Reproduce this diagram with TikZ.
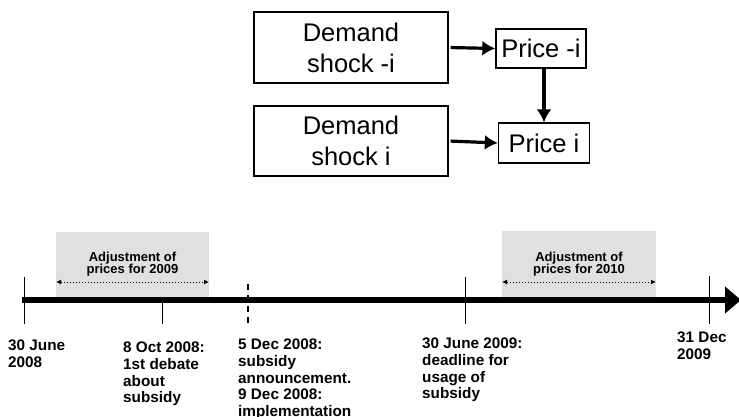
\documentclass[tikz,border=0pt]{standalone}
\usepackage{fontspec}
\setmainfont{Liberation Sans}
\usetikzlibrary{arrows.meta}
\begin{document}
\begin{tikzpicture}[x=1pt,y=-1pt,
  box/.style={draw,line width=1.3pt,inner sep=0pt,align=center,
    font=\fontsize{25.5}{31}\selectfont},
  flow/.style={line width=3.2pt,-{Latex[length=13pt,width=15pt]}},
  datelbl/.style={anchor=north west,inner sep=0pt,align=left,
    font=\fontsize{15.3}{16.7}\selectfont\bfseries},
  tick/.style={line width=1pt},
  adjbox/.style={fill=black!12,draw=none},
  adjlbl/.style={inner sep=0pt,align=center,
    font=\fontsize{13}{12.5}\selectfont\bfseries},
  adjarrow/.style={dotted,line width=1pt,{Latex[length=5pt,width=5pt]}-{Latex[length=5pt,width=5pt]}}
]
\useasboundingbox (0,0) rectangle (739,417);
% top diagram
\node[box,minimum width=194pt,minimum height=71pt] (ds1) at (351,47.5) {Demand\\shock -i};
\node[box,minimum width=90pt,minimum height=39pt] (p1) at (541,48.5) {Price -i};
\node[box,minimum width=194pt,minimum height=70pt] (ds2) at (351,141) {Demand\\shock i};
\node[box,minimum width=91pt,minimum height=40pt] (p2) at (544,143) {Price i};
\draw[flow,shorten <=2pt] (ds1.east) -- (p1.west);
\draw[flow,shorten <=2pt] (ds2.east) -- (p2.west);
\draw[flow] (p2.north |- p1.south) -- (p2.north);
% timeline
\fill[adjbox] (56,232) rectangle (209,298);
\fill[adjbox] (502,231) rectangle (656,298);
\coordinate (tl0) at (22,300);
\coordinate (tl1) at (741,300);
\draw[line width=6pt,-{Triangle[length=16pt,width=26pt]}] (tl0) -- (tl1);
\coordinate (a1) at (56,282);
\coordinate (a2) at (209,282);
\coordinate (b1) at (502,282);
\coordinate (b2) at (656,282);
\draw[adjarrow] (a1) -- (a2);
\draw[adjarrow] (b1) -- (b2);
\node[adjlbl] (adj1) at (132.5,264) {Adjustment of\\prices for 2009};
\node[adjlbl] (adj2) at (579,264) {Adjustment of\\prices for 2010};
% ticks
\coordinate (t1a) at (24,277); \coordinate (t1b) at (24,324);
\coordinate (t2a) at (162,300); \coordinate (t2b) at (162,324);
\coordinate (t3a) at (248,284); \coordinate (t3b) at (248,324);
\coordinate (t4a) at (465,277); \coordinate (t4b) at (465,324);
\coordinate (t5a) at (709,276); \coordinate (t5b) at (709,324);
\draw[tick] (t1a) -- (t1b);
\draw[tick] (t2a) -- (t2b);
\draw[line width=2.2pt,dash pattern=on 6pt off 5pt] (t3a) -- (t3b);
\draw[tick] (t4a) -- (t4b);
\draw[tick] (t5a) -- (t5b);
% labels
\node[datelbl] (l1) at (8,339.5) {30 June\\2008};
\node[datelbl] (l2) at (123,342) {8 Oct 2008:\\1st debate\\about\\subsidy};
\node[datelbl] (l3) at (238,339) {5 Dec 2008:\\subsidy\\announcement.\\9 Dec 2008:\\implementation};
\node[datelbl] (l4) at (422,338) {30 June 2009:\\deadline for\\usage of\\subsidy};
\node[datelbl] (l5) at (677,332) {31 Dec\\2009};
\end{tikzpicture}
\end{document}
